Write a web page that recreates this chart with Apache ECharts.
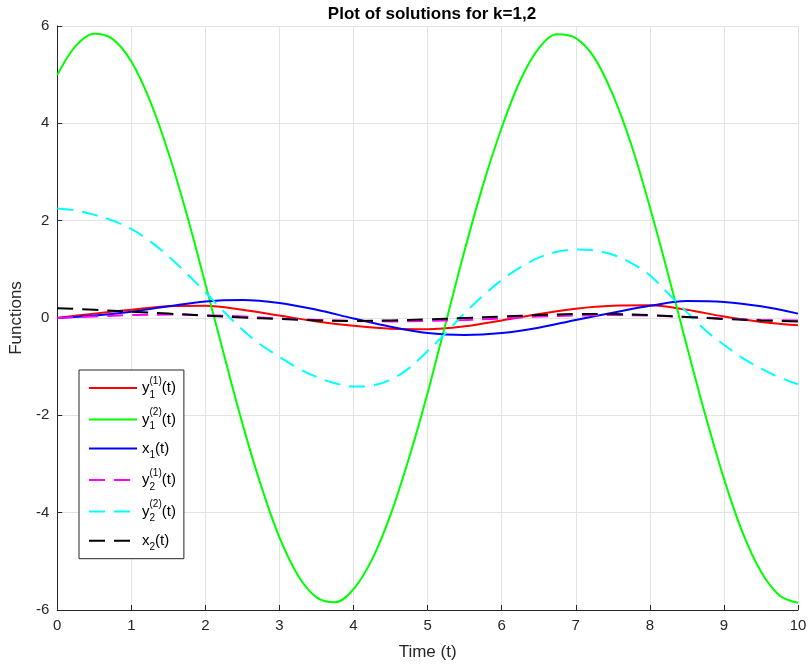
<!DOCTYPE html>
<html>
<head>
<meta charset="utf-8">
<script src="https://cdn.jsdelivr.net/npm/echarts@6/dist/echarts.min.js"></script>
<style>
html,body{margin:0;padding:0;background:#fff;}
#chart{width:810px;height:668px;}
</style>
</head>
<body>
<div id="chart"></div>
<script>
// Time samples
const timeFine = [0,0.25,0.5,0.75,1,1.25,1.5,1.75,2,2.25,2.5,2.75,3,3.25,3.5,3.75,4,4.25,4.5,4.75,5,5.25,5.5,5.75,6,6.25,6.5,6.75,7,7.25,7.5,7.75,8,8.25,8.5,8.75,9,9.25,9.5,9.75,10];
const time = [0,0.5,1,1.5,2,2.5,3,3.5,4,4.5,5,5.5,6,6.5,7,7.5,8,8.5,9,9.5,10];

// y1^(2)(t) (green) and y2^(2)(t) (cyan), sampled on timeFine
const y1b = [4.99,5.59,5.84,5.73,5.27,4.47,3.40,2.12,0.70,-0.75,-2.17,-3.44,-4.51,-5.29,-5.74,-5.84,-5.57,-4.96,-4.04,-2.87,-1.54,-0.07,1.39,2.74,3.91,4.88,5.54,5.83,5.75,5.35,4.59,3.56,2.28,0.88,-0.58,-2.00,-3.30,-4.40,-5.21,-5.70,-5.85];
const y2b = [2.25,2.21,2.12,2.0,1.83,1.58,1.27,0.91,0.53,0.13,-0.24,-0.55,-0.8,-1.03,-1.21,-1.34,-1.41,-1.39,-1.27,-1.03,-0.68,-0.3,0.1,0.46,0.78,1.04,1.24,1.36,1.41,1.39,1.3,1.13,0.88,0.5,0.12,-0.25,-0.55,-0.82,-1.04,-1.22,-1.36];
// the rest sampled on time
const y1a = [0,0.09,0.17,0.24,0.25,0.17,0.05,-0.07,-0.16,-0.22,-0.23,-0.17,-0.05,0.08,0.19,0.25,0.26,0.17,0.03,-0.08,-0.15];
const x1  = [0,0.05,0.13,0.24,0.34,0.37,0.31,0.17,-0.01,-0.18,-0.31,-0.35,-0.31,-0.2,-0.04,0.11,0.25,0.35,0.33,0.24,0.09];
const y2a = [0,0.03,0.06,0.07,0.06,0.03,-0.01,-0.04,-0.06,-0.07,-0.06,-0.04,-0.01,0.03,0.05,0.06,0.05,0.02,-0.01,-0.04,-0.05];
const x2  = [0.2,0.17,0.13,0.09,0.05,0.01,-0.02,-0.05,-0.06,-0.05,-0.03,0.0,0.03,0.06,0.08,0.08,0.06,0.02,-0.02,-0.05,-0.07];

const xTicks = [0,1,2,3,4,5,6,7,8,9,10];
const yTicks = [-6,-4,-2,0,2,4,6];

const FONT = '"Liberation Sans", Arial, Helvetica, sans-serif';
const AX = '#262626';

function pairs(t, v){ return t.map((x,i)=>[x, v[i]]); }

const seriesDefs = [
  {name:'y1a', t: time, v: y1a, color:'#ff0000', type:'solid'},
  {name:'y1b', t: timeFine, v: y1b, color:'#00ff00', type:'solid'},
  {name:'x1', t: time, v: x1, color:'#0000ff', type:'solid'},
  {name:'y2a', t: time, v: y2a, color:'#ff00ff', type:[16,9]},
  {name:'y2b', t: timeFine, v: y2b, color:'#00ffff', type:[16,9]},
  {name:'x2', t: time, v: x2, color:'#000000', type:[16,9]}
];

const labelMap = {
  y1a: '{m|y}{sb|1}{sp|(1)}{m|(t)}',
  y1b: '{m|y}{sb|1}{sp|(2)}{m|(t)}',
  x1:  '{m|x}{sb2|1}{m|(t)}',
  y2a: '{m|y}{sb|2}{sp|(1)}{m|(t)}',
  y2b: '{m|y}{sb|2}{sp|(2)}{m|(t)}',
  x2:  '{m|x}{sb2|2}{m|(t)}'
};

const chart = echarts.init(document.getElementById('chart'), null, {renderer:'canvas'});
chart.setOption({
  animation: false,
  backgroundColor: '#ffffff',
  title: {
    text: 'Plot of solutions for k=1,2',
    left: 427, top: 1, textAlign: 'center',
    textStyle: {fontFamily: FONT, fontSize: 17, fontWeight: 'bold', color: '#000'}
  },
  grid: {left: 57, right: 12, top: 26, bottom: 58, containLabel: false},
  legend: {
    orient: 'vertical', left: 79, top: 370,
    itemWidth: 48, itemHeight: 24, itemGap: 7.5,
    padding: [6, 8, 6, 9],
    borderColor: AX, borderWidth: 1, backgroundColor: '#fff',
    itemStyle: {opacity: 0},
    data: seriesDefs.map(s=>s.name),
    formatter: n => labelMap[n],
    textStyle: {
      fontFamily: FONT, fontSize: 15, color: '#000',
      rich: {
        m: {fontFamily: FONT, fontSize: 15, color:'#000', lineHeight: 24, verticalAlign: 'middle'},
        sp: {fontFamily: FONT, fontSize: 10, color:'#000', lineHeight: 24, verticalAlign: 'top'},
        sb: {fontFamily: FONT, fontSize: 10, color:'#000', lineHeight: 24, verticalAlign: 'bottom', width: 0},
        sb2: {fontFamily: FONT, fontSize: 10, color:'#000', lineHeight: 24, verticalAlign: 'bottom'}
      }
    }
  },
  xAxis: {
    type: 'value', min: 0, max: 10, interval: 1,
    name: 'Time (t)', nameLocation: 'middle', nameGap: 34,
    nameTextStyle: {fontFamily: FONT, fontSize: 17, color: AX},
    axisLine: {show: true, onZero: false, lineStyle: {color: AX, width: 1}},
    axisTick: {show: true, inside: true, length: 5, lineStyle: {color: AX}},
    axisLabel: {fontFamily: FONT, fontSize: 15, color: AX, margin: 8,
      formatter: v => xTicks.includes(v) ? String(v) : ''},
    splitLine: {show: true, lineStyle: {color: '#e3e3e3', width: 1}}
  },
  yAxis: {
    type: 'value', min: -6, max: 6, interval: 2,
    name: 'Functions', nameLocation: 'middle', nameGap: 27,
    nameTextStyle: {fontFamily: FONT, fontSize: 17, color: AX},
    axisLine: {show: true, onZero: false, lineStyle: {color: AX, width: 1}},
    axisTick: {show: true, inside: true, length: 5, lineStyle: {color: AX}},
    axisLabel: {fontFamily: FONT, fontSize: 15, color: AX, margin: 8,
      formatter: v => yTicks.includes(v) ? String(v) : ''},
    splitLine: {show: true, lineStyle: {color: '#e3e3e3', width: 1}}
  },
  series: seriesDefs.map(s => ({
    name: s.name, type: 'line', smooth: 0.35,
    showSymbol: false, symbol: 'none',
    data: pairs(s.t, s.v),
    lineStyle: {color: s.color, width: 2, type: s.type},
    itemStyle: {color: s.color},
    emphasis: {disabled: true}
  }))
});
</script>
</body>
</html>
